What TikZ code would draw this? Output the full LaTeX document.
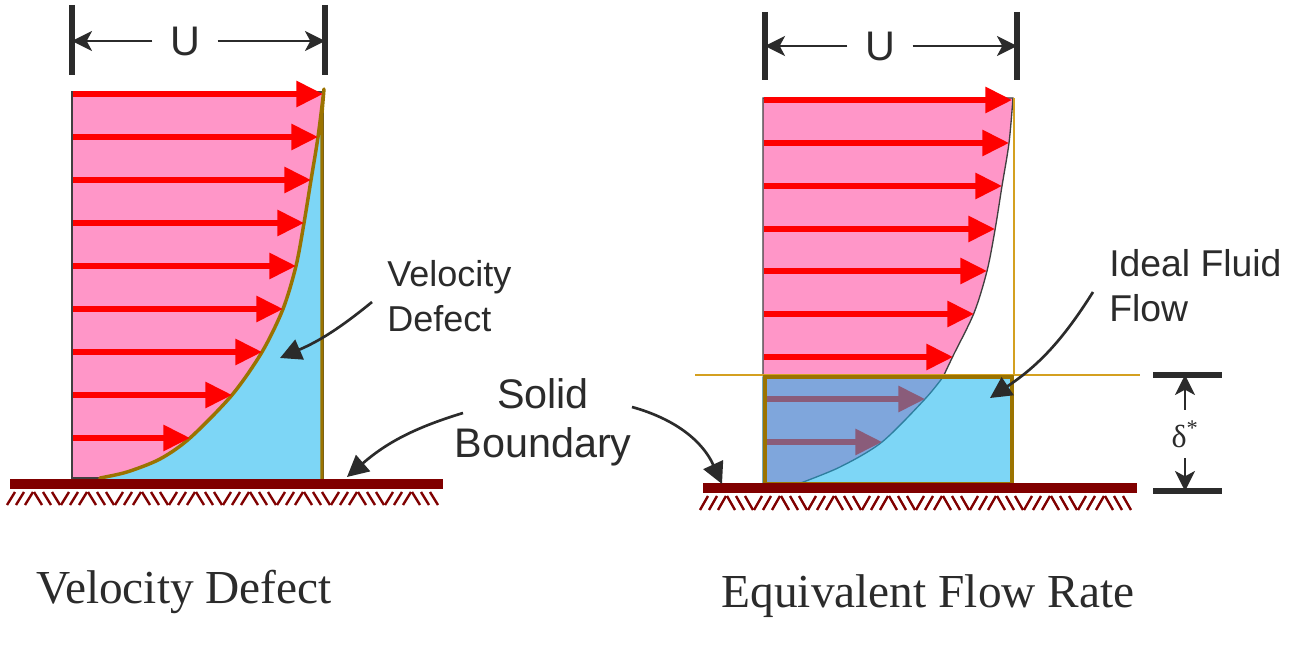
\documentclass[tikz,border=0pt]{standalone}
\usepackage{fontspec}
\setsansfont{Liberation Sans}
\newfontfamily\titlefont{Liberation Serif}
\usetikzlibrary{arrows.meta}
\definecolor{flowpink}{HTML}{FF96C8}
\definecolor{defectblue}{HTML}{7DD6F6}
\definecolor{overlapblue}{HTML}{7FA6DC}
\definecolor{edgebrown}{HTML}{9B7300}
\definecolor{guideorange}{HTML}{D4A020}
\definecolor{wallred}{HTML}{800000}
\definecolor{slowpurple}{HTML}{8A5C7A}
\definecolor{inkgray}{HTML}{2B2B2B}
\definecolor{lowcurve}{HTML}{2E7E9E}
\begin{document}
\begin{tikzpicture}[x=0.75pt, y=-0.75pt]
 \tikzset{velarrow/.style={draw=red, line width=3.8pt, -{Triangle[length=20pt,width=19pt]}}}
 \tikzset{slowarrow/.style={velarrow, draw=slowpurple}}
 \tikzset{callout/.style={draw=inkgray, line width=2pt, -{Triangle[length=16pt,width=16pt]}}}
 \tikzset{dimline/.style={draw=inkgray, line width=2.2pt, -{Stealth[length=15pt,width=15pt,inset=4pt]}}}
 \tikzset{dimbar/.style={draw=inkgray, line width=4pt}}
 \tikzset{hatch/.style={draw=wallred, line width=1.8pt}}
 \tikzset{lbl/.style={text=inkgray, inner sep=0pt, font=\sffamily\fontsize{27}{34}\selectfont}}
 \tikzset{caption/.style={text=inkgray, inner sep=0pt, font=\titlefont\fontsize{35.5}{42}\selectfont}}
 \useasboundingbox (0,0) rectangle (1304,652);

 % left profile
 \filldraw[fill=flowpink, draw=darkgray, line width=1pt] (72,478) rectangle (323,92);
 \filldraw[fill=defectblue, draw=edgebrown, line width=2.6pt, line join=round]
   (322,482) -- (322,113) -- plot[smooth] coordinates {(324,89) (318,137) (311,180) (304,223) (296,266) (283,309) (262,352) (232,395) (190,438) (160,459) (127,472) (100,478)} -- (100,482) -- cycle;
 \foreach \y/\tip in {94/323, 137/318, 180/311, 223/304, 266/296, 309/283, 352/262, 395/232, 438/190}
   \draw[velarrow] (73,\y) -- (\tip,\y);
 \fill[wallred] (10,479) rectangle (443,489);
 \foreach \k in {0,...,7} \foreach \j in {0,1,2} {
   \draw[hatch] (7+54*\k+9*\j,505) -- (15+54*\k+9*\j,492);
   \draw[hatch] (34+54*\k+9*\j,492) -- (42+54*\k+9*\j,505);
 }

 % left U
 \node[lbl, font=\sffamily\fontsize{31}{36}\selectfont, inner xsep=13pt] (uleft) at (185,41) {U};
 \coordinate (lbartop) at (72,5);
 \coordinate (lbarbot) at (72,75);
 \coordinate (rbartop) at (325,5);
 \coordinate (rbarbot) at (325,75);
 \draw[dimbar] (lbartop) -- (lbarbot);
 \draw[dimbar] (rbartop) -- (rbarbot);
 \draw[dimline] (uleft.west) -- (uleft.west -| lbartop);
 \draw[dimline] (uleft.east) -- (uleft.east -| rbartop);

 % right profile
 \filldraw[fill=flowpink, draw=darkgray, line width=1pt]
   (763,375) -- (763,98) -- plot[smooth] coordinates {(1013,98) (1009,143) (1002,186) (995,230) (987,271) (974,313) (953,356) (944,375)} -- cycle;
 \fill[defectblue] (763,377) rectangle (1013,484);
 \filldraw[fill=overlapblue, draw=lowcurve, line width=1pt]
   (763,484) -- (763,377) -- plot[smooth] coordinates {(943,377) (925,399) (882,442) (840,467) (798,484)} -- cycle;
 \draw[guideorange, line width=1.5pt] (695,375) -- (1140,375);
 \draw[guideorange, line width=1.5pt] (1014,98) -- (1014,375);
 \draw[edgebrown, line width=3pt] (765,377) rectangle (1012,484);
 \foreach \y/\tip in {100/1012, 143/1009, 186/1002, 229/995, 271/987, 314/974, 357/953}
   \draw[velarrow] (764,\y) -- (\tip,\y);
 \foreach \y/\tip in {399/925, 442/882}
   \draw[slowarrow] (767,\y) -- (\tip,\y);
 \fill[wallred] (703,483) rectangle (1137,493);
 \foreach \k in {0,...,7} \foreach \j in {0,1,2} {
   \draw[hatch] (700+54*\k+9*\j,510) -- (708+54*\k+9*\j,496);
   \draw[hatch] (727+54*\k+9*\j,496) -- (735+54*\k+9*\j,510);
 }

 % right U
 \node[lbl, font=\sffamily\fontsize{31}{36}\selectfont, inner xsep=13pt] (uright) at (880,46) {U};
 \coordinate (lbartop2) at (765,12);
 \coordinate (lbarbot2) at (765,80);
 \coordinate (rbartop2) at (1017,12);
 \coordinate (rbarbot2) at (1017,80);
 \draw[dimbar] (lbartop2) -- (lbarbot2);
 \draw[dimbar] (rbartop2) -- (rbarbot2);
 \draw[dimline] (uright.west) -- (uright.west -| lbartop2);
 \draw[dimline] (uright.east) -- (uright.east -| rbartop2);

 % delta star
 \coordinate (dtopl) at (1153,375);
 \coordinate (dtopr) at (1222,375);
 \coordinate (dbotl) at (1153,491);
 \coordinate (dbotr) at (1222,491);
 \draw[dimbar] (dtopl) -- (dtopr);
 \draw[dimbar] (dbotl) -- (dbotr);
 \node[text=inkgray, inner xsep=0pt, inner ysep=8pt, font=\titlefont\fontsize{24}{28}\selectfont] (dstar) at (1185,434) {δ\textsuperscript{*}};
 \draw[dimline] (dstar.north) -- (dstar.north |- dtopl);
 \draw[dimline] (dstar.south) -- (dstar.south |- dbotl);

 % labels
 \node[lbl, align=left, anchor=base west] (defectlbl) at (387,332) {Velocity\\Defect};
 \node[lbl, align=center, anchor=base, font=\sffamily\fontsize{31}{37.5}\selectfont] (solidlbl) at (543,458) {Solid\\Boundary};
 \node[lbl, align=left, anchor=base west, font=\sffamily\fontsize{28}{34}\selectfont] (ideallbl) at (1109,322) {Ideal Fluid\\Flow};
 \coordinate (defectfrom) at (372,302);
 \coordinate (defectto) at (280,358);
 \coordinate (solidfromA) at (463,413);
 \coordinate (solidtoA) at (347,477);
 \coordinate (solidfromB) at (632,407);
 \coordinate (solidtoB) at (722,484);
 \coordinate (idealfrom) at (1093,292);
 \coordinate (idealto) at (990,398);
 \draw[callout] (defectfrom) to[bend left=8] (defectto);
 \draw[callout] (solidfromA) to[bend right=12] (solidtoA);
 \draw[callout] (solidfromB) to[bend left=25] (solidtoB);
 \draw[callout] (idealfrom) to[bend left=12] (idealto);

 % captions
 \node[caption, anchor=base] (ttldefect) at (184,603) {Velocity Defect};
 \node[caption, anchor=base] (ttlrate) at (928,607) {Equivalent Flow Rate};
\end{tikzpicture}
\end{document}
